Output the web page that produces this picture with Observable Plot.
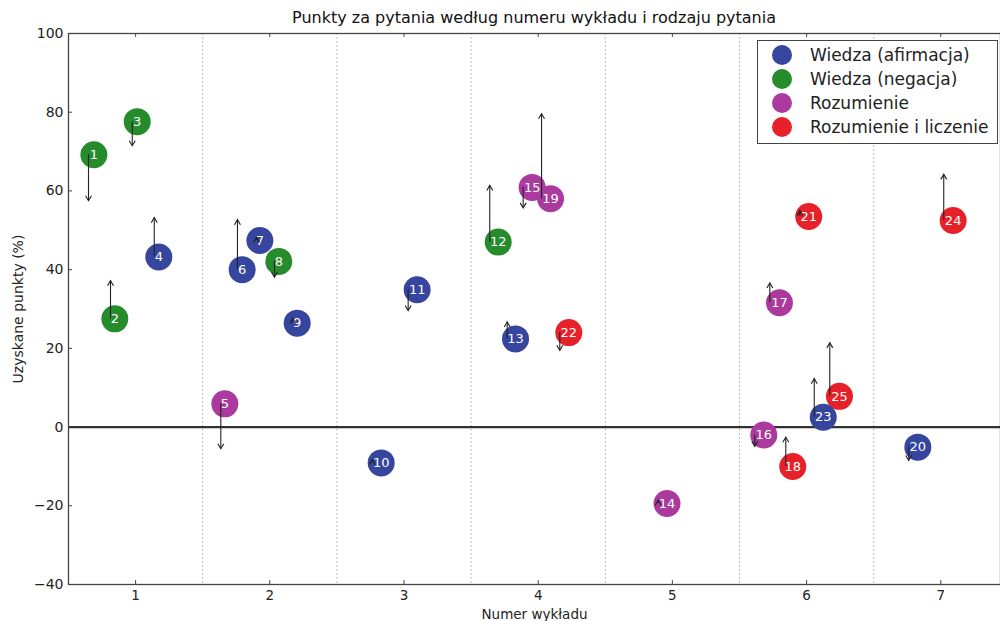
<!DOCTYPE html>
<html><head><meta charset="utf-8">
<script src="https://cdn.jsdelivr.net/npm/d3@7"></script>
<script src="https://cdn.jsdelivr.net/npm/@observablehq/plot@0.6"></script>
<style>
body{margin:0;background:#fff;}
#wrap{position:relative;width:1000px;height:621px;overflow:hidden;font-family:"DejaVu Sans",sans-serif;background:#fff;}
#title{position:absolute;top:8px;left:534px;transform:translateX(-50%);font-size:16px;white-space:nowrap;color:#111;}
#legend{position:absolute;left:757px;top:40px;width:241px;height:104px;border:1px solid #444;background:#fff;box-sizing:border-box;}
.row{position:absolute;left:0;height:24px;display:flex;align-items:center;}
.sw{width:20px;height:20px;border-radius:50%;margin-left:14px;margin-right:18px;}
.lt{font-size:17px;color:#222;white-space:nowrap;}
#chart{position:absolute;left:0;top:0;}
</style></head>
<body>
<div id="wrap"><div id="chart"></div><div id="title"></div><div id="legend"></div></div>
<script>
// ---- data ----
const title = "Punkty za pytania według numeru wykładu i rodzaju pytania";
const xLabel = "Numer wykładu";
const yLabel = "Uzyskane punkty (%)";
const categories = ["Wiedza (afirmacja)", "Wiedza (negacja)", "Rozumienie", "Rozumienie i liczenie"];
const colors = ["#36459d", "#268c2b", "#aa3a9d", "#e7212a"];
const questions = [1,2,3,4,5,6,7,8,9,10,11,12,13,14,15,16,17,18,19,20,21,22,23,24,25];
const questionType = [1,1,1,0,2,0,0,1,0,0,0,1,0,2,2,2,2,3,2,0,3,3,0,3,3];
const posX = [0.689,0.845,1.012,1.173,1.665,1.794,1.926,2.067,2.204,2.830,3.098,3.702,3.831,4.960,3.955,5.681,5.798,5.897,4.092,6.829,6.016,4.228,6.124,7.092,6.245];
const score = [69.2,27.5,77.6,43.2,5.9,40.0,47.4,42.1,26.4,-9.1,34.9,47.0,22.4,-19.4,60.9,-2.0,31.6,-10.0,58.0,-5.1,53.5,24.0,2.5,52.5,7.8];
const arrowX = [0.649,0.813,0.975,1.139,1.635,1.759,1.901,2.035,2.171,2.763,3.031,3.639,3.769,4.894,3.888,5.614,5.726,5.845,4.025,6.761,5.950,4.161,6.057,7.022,6.173];
const arrowEnd = [57.5,37.2,71.5,53.2,-5.5,52.7,48.2,38.1,27.6,-8.3,29.6,61.4,26.7,-18.6,55.7,-4.9,36.6,-2.6,79.6,-8.5,55.0,19.5,12.3,64.2,21.4];
const xTicks = [1,2,3,4,5,6,7];
const yTicks = [-40,-20,0,20,40,60,80,100];
const separators = [1.5,2.5,3.5,4.5,5.5,6.5];

// ---- build ----
const points = questions.map((q,i)=>({q:String(q), type:categories[questionType[i]], rank:questionType[i], x:posX[i], y:score[i], ax:arrowX[i], end:arrowEnd[i]}));
const drawOrder = points.slice().sort((a,b)=> (b.rank-a.rank) || (+a.q - +b.q));
const up = points.filter(d=>d.end>d.y), down = points.filter(d=>d.end<d.y);
const chevUp = {draw(c,size){const s=Math.sqrt(size/Math.PI); c.moveTo(-s*0.6,s); c.lineTo(0,0); c.lineTo(s*0.6,s);}};
const chevDown = {draw(c,size){const s=Math.sqrt(size/Math.PI); c.moveTo(-s*0.6,-s); c.lineTo(0,0); c.lineTo(s*0.6,-s);}};
const ink = "#222";

const chart = Plot.plot({
  width:1000, height:621, marginLeft:68, marginRight:0, marginTop:33, marginBottom:37,
  style:{fontFamily:"DejaVu Sans", fontSize:"13.5px", color:"#222", background:"white", overflow:"visible"},
  x:{domain:[0.5,7.445]},
  y:{domain:[-40,100]},
  color:{domain:categories, range:colors},
  marks:[
    Plot.ruleX(separators,{stroke:"#aaa", strokeDasharray:"1.5,2.5"}),
    Plot.ruleY([0],{stroke:"#333", strokeWidth:2.2}),
    Plot.frame({stroke:"#444", strokeWidth:1.3}),
    Plot.ruleX(xTicks,{y1:-40, y2:-39, stroke:"#444"}),
    Plot.ruleX(xTicks,{y1:100, y2:99, stroke:"#444"}),
    Plot.ruleY(yTicks,{x1:0.5, x2:0.53, stroke:"#444"}),
    Plot.axisX(xTicks,{tickSize:0, tickPadding:6, tickFormat:d3.format("d"), label:xLabel, labelAnchor:"center", labelArrow:"none", labelOffset:34}),
    Plot.axisY(yTicks,{tickSize:0, tickPadding:5, label:yLabel, labelAnchor:"center", labelArrow:"none", labelOffset:55, fontSize:14}),
    Plot.dot(drawOrder,{x:"x", y:"y", r:13.5, fill:"type"}),
    Plot.text(drawOrder,{x:"x", y:"y", text:"q", fill:"white", fontSize:13}),
    Plot.ruleX(points,{x:"ax", y1:"y", y2:"end", stroke:ink, strokeWidth:1.1}),
    Plot.dot(up,{x:"ax", y:"end", symbol:chevUp, r:5, stroke:ink, fill:"none", strokeWidth:1.1}),
    Plot.dot(down,{x:"ax", y:"end", symbol:chevDown, r:5, stroke:ink, fill:"none", strokeWidth:1.1})
  ]
});
document.getElementById("chart").appendChild(chart);
document.getElementById("title").textContent = title;
const lg = document.getElementById("legend");
const rowCenters = [14, 38, 62, 86];
categories.forEach((c,i)=>{
  const r = document.createElement("div"); r.className="row"; r.style.top=(rowCenters[i]-12)+"px";
  const s = document.createElement("div"); s.className="sw"; s.style.background=colors[i];
  const t = document.createElement("span"); t.className="lt"; t.textContent=c;
  r.appendChild(s); r.appendChild(t); lg.appendChild(r);
});
</script>
</body></html>
